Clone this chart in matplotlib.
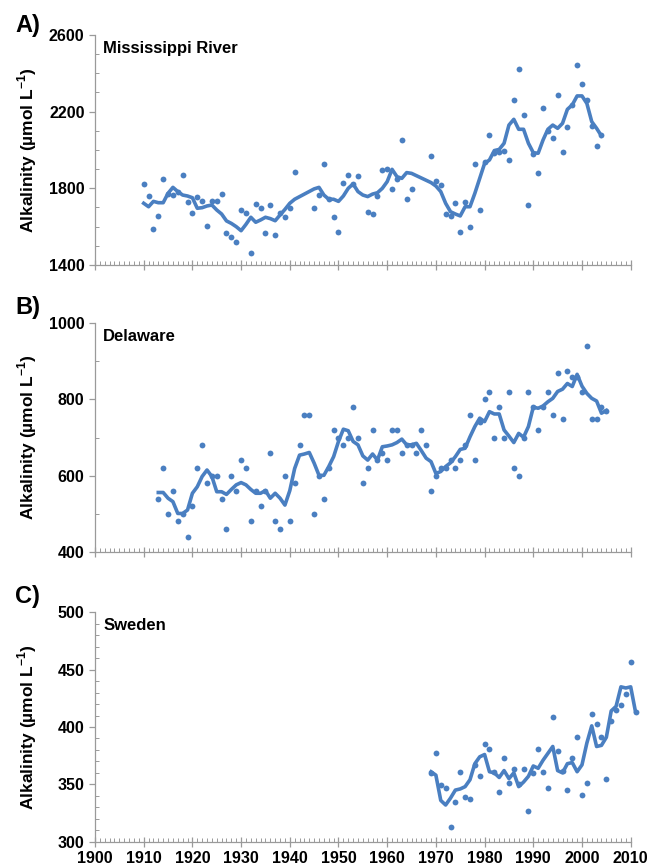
import numpy as np
import matplotlib
matplotlib.use("Agg")
import matplotlib.pyplot as plt
from matplotlib.ticker import MultipleLocator

plt.rcParams['font.family'] = ['Liberation Sans', 'DejaVu Sans']
plt.rcParams['font.weight'] = 'bold'
plt.rcParams['mathtext.fontset'] = 'custom'
plt.rcParams['mathtext.rm'] = 'Liberation Sans'
plt.rcParams['mathtext.bf'] = 'Liberation Sans:bold'

blue = '#4a7fc1'
grey = '#9a9a9a'

# A) Mississippi River - yearly points
miss_years = [1910, 1911, 1912, 1913, 1914, 1915, 1916, 1917, 1918, 1919, 1920, 1921, 1922, 1923,
              1924, 1925, 1926, 1927, 1928, 1929, 1930, 1931, 1932, 1933, 1934, 1935, 1936, 1937,
              1938, 1939, 1940, 1941, 1945, 1946, 1947, 1948, 1949, 1950, 1951, 1952, 1953, 1954,
              1956, 1957, 1958, 1959, 1960, 1961, 1962, 1963, 1964, 1965, 1969, 1970, 1971, 1972,
              1973, 1974, 1975, 1976, 1977, 1978, 1979, 1980, 1981, 1982, 1983, 1984, 1985, 1986,
              1987, 1988, 1989, 1990, 1991, 1992, 1993, 1994, 1995, 1996, 1997, 1998, 1999, 2000,
              2001, 2002, 2003, 2004]
miss_vals = [1823, 1760, 1588, 1656, 1850, 1772, 1763, 1780, 1870, 1729, 1671, 1753, 1736, 1603,
             1732, 1732, 1772, 1567, 1548, 1522, 1689, 1671, 1464, 1717, 1699, 1567, 1715, 1557,
             1671, 1649, 1697, 1885, 1699, 1767, 1927, 1743, 1652, 1572, 1830, 1871, 1821, 1866,
             1677, 1664, 1760, 1896, 1903, 1795, 1849, 2052, 1746, 1797, 1969, 1837, 1816, 1664,
             1657, 1723, 1570, 1730, 1597, 1925, 1685, 1939, 2080, 1983, 1990, 1993, 1950, 2263,
             2421, 2181, 1715, 1977, 1878, 2221, 2097, 2064, 2285, 1990, 2120, 2235, 2445, 2346,
             2259, 2127, 2023, 2077]
# smoothed curve
miss_line_years = [1910, 1911, 1912, 1913, 1914, 1915, 1916, 1917, 1918, 1919, 1920, 1921, 1922,
                   1923, 1924, 1925, 1926, 1927, 1928, 1929, 1930, 1931, 1932, 1933, 1934, 1935,
                   1936, 1937, 1938, 1939, 1940, 1941, 1945, 1946, 1947, 1948, 1949, 1950, 1951,
                   1952, 1953, 1954, 1955, 1956, 1957, 1958, 1959, 1960, 1961, 1962, 1963, 1964,
                   1965, 1969, 1970, 1971, 1972, 1973, 1974, 1975, 1976, 1977, 1978, 1979, 1980,
                   1981, 1982, 1983, 1984, 1985, 1986, 1987, 1988, 1989, 1990, 1991, 1992, 1993,
                   1994, 1995, 1996, 1997, 1998, 1999, 2000, 2001, 2002, 2003, 2004]
miss_line = [1722, 1704, 1732, 1725, 1725, 1774, 1805, 1783, 1765, 1760, 1751, 1696, 1699,
             1708, 1713, 1687, 1666, 1630, 1617, 1600, 1579, 1612, 1649, 1623, 1635, 1649,
             1642, 1631, 1661, 1690, 1722, 1743, 1797, 1805, 1765, 1743, 1743, 1732, 1760,
             1800, 1823, 1783, 1765, 1757, 1770, 1777, 1800, 1835, 1899, 1861, 1852, 1882,
             1878, 1830, 1812, 1783, 1722, 1678, 1666, 1656, 1704, 1704, 1774, 1852, 1930,
             1948, 1997, 2003, 2035, 2130, 2160, 2108, 2108, 2035, 1986, 1983, 2052, 2108,
             2130, 2113, 2139, 2212, 2235, 2282, 2282, 2243, 2148, 2113, 2073]

# B) Delaware
del_years = list(range(1913, 2006))
del_vals = [540, 620, 500, 560, 480, 500, 440, 520, 620, 680, 580, 600, 600, 540, 460, 600, 560,
            640, 620, 480, 560, 520, 560, 660, 480, 460, 600, 480, 580, 680, 760, 760, 500, 600,
            540, 620, 720, 700, 680, 700, 780, 700, 580, 620, 720, 640, 660, 640, 720, 720, 660,
            680, 680, 660, 720, 680, 560, 600, 620, 620, 640, 620, 640, 680, 760, 640, 740, 800,
            820, 700, 780, 700, 820, 620, 600, 700, 820, 780, 720, 780, 820, 760, 870, 750, 875,
            860, 860, 820, 940, 750, 750, 780, 770]
del_line = [556, 556, 541, 532, 501, 501, 510, 554, 571, 598, 615, 598, 558, 558, 551, 564, 576,
            582, 576, 564, 554, 554, 561, 541, 554, 541, 523, 561, 619, 654, 657, 661, 633, 601,
            601, 624, 650, 690, 722, 718, 690, 681, 652, 641, 657, 641, 676, 678, 681, 687, 696,
            681, 681, 685, 666, 646, 637, 606, 611, 624, 634, 650, 669, 672, 702, 729, 751, 742,
            768, 762, 762, 720, 704, 687, 711, 701, 729, 780, 777, 783, 794, 803, 821, 827, 842,
            834, 866, 835, 816, 803, 796, 764, 771]

# C) Sweden
swe_years = list(range(1969, 2012))
swe_vals = [360, 377, 349, 347, 313, 335, 361, 339, 337, 367, 357, 385, 381, 361, 343, 373, 351,
            363, 350, 363, 327, 360, 381, 361, 347, 409, 379, 362, 345, 373, 391, 341, 351, 411,
            403, 391, 355, 405, 415, 419, 429, 457, 413]
swe_line = [361, 358, 336, 332, 338, 345, 346, 348, 354, 368, 374, 376, 361, 360, 356, 362, 355,
            360, 348, 352, 357, 366, 364, 371, 377, 383, 362, 360, 368, 369, 361, 367, 386, 401,
            383, 384, 391, 414, 418, 435, 434, 435, 413]

panels = [
    ('A)', 'Mississippi River', miss_years, miss_vals, miss_line_years, miss_line,
     (1400, 2600), 400, 100),
    ('B)', 'Delaware', del_years, del_vals, del_years, del_line, (400, 1000), 200, 100),
    ('C)', 'Sweden', swe_years, swe_vals, swe_years, swe_line, (300, 500), 50, 10),
]
boxes = [(0.1435, 0.6947, 0.8092, 0.2650),
         (0.1435, 0.3641, 0.8092, 0.2635),
         (0.1435, 0.0303, 0.8092, 0.2643)]
letter_y = [1 - 32 / 868, 1 - 314 / 868, 1 - 603 / 868]

fig = plt.figure(figsize=(6.62, 8.68), dpi=100)

for i, (letter, name, px, py, lx, ly, ylim, ymaj, ymin) in enumerate(panels):
    ax = fig.add_axes(boxes[i])
    ax.plot(px, py, 'o', color=blue, markersize=4.2, markeredgewidth=0, clip_on=False, zorder=3)
    ax.plot(lx, ly, '-', color=blue, linewidth=2.6, solid_joinstyle='round', clip_on=False, zorder=4)
    ax.set_xlim(1900, 2010)
    ax.set_ylim(*ylim)
    ax.xaxis.set_major_locator(MultipleLocator(10))
    ax.xaxis.set_minor_locator(MultipleLocator(1))
    ax.set_yticks(np.arange(ylim[0], ylim[1] + 1, ymaj))
    ax.set_yticks(np.arange(ylim[0], ylim[1] + 1, ymin), minor=True)
    for s in ['top', 'right']:
        ax.spines[s].set_visible(False)
    for s in ['left', 'bottom']:
        ax.spines[s].set_color(grey)
        ax.spines[s].set_linewidth(0.9)
    ax.tick_params(axis='x', which='major', direction='inout', length=7, width=0.9, color=grey,
                   labelsize=11.5, pad=3)
    ax.tick_params(axis='x', which='minor', direction='in', length=3, width=0.7, color=grey)
    ax.tick_params(axis='y', which='major', direction='out', length=4.5, width=0.9, color=grey,
                   labelsize=11.5, pad=3)
    ax.tick_params(axis='y', which='minor', direction='in', length=3, width=0.7, color=grey)
    if i < 2:
        ax.tick_params(axis='x', labelbottom=False)
    for lab in ax.get_xticklabels() + ax.get_yticklabels():
        lab.set_fontweight('bold')
    ax.text(0.015, 0.943, name, transform=ax.transAxes, fontsize=12, fontweight='bold',
            va='center', ha='left')
    fig.text(27 / 662, boxes[i][1] + boxes[i][3] / 2, r'Alkalinity (µmol L$^{\mathbf{-1}}$)',
             rotation=90, fontsize=12.5, fontweight='bold', ha='center', va='center')
    fig.text(15 / 662, letter_y[i], letter, fontsize=17, fontweight='bold', ha='left',
             va='baseline')

fig.savefig('out.png', dpi=100)
